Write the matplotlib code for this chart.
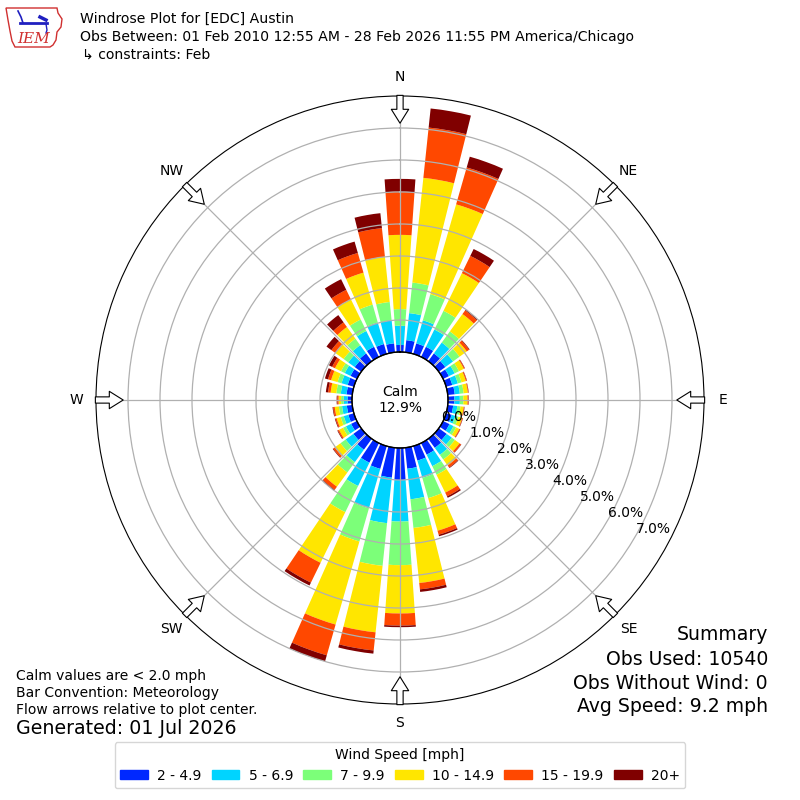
import numpy as np
import matplotlib
matplotlib.use('Agg')
import matplotlib.pyplot as plt
from matplotlib.patches import Rectangle, Polygon

# wind direction bins (deg) and frequency (%) per speed bin
directions = np.arange(0, 360, 10)
spd_2_5 = [0.22, 0.38, 0.34, 0.35, 0.30, 0.25, 0.20, 0.20, 0.22, 0.20,
           0.17, 0.18, 0.22, 0.30, 0.35, 0.40, 0.47, 0.66, 1.00, 0.94,
           0.74, 0.68, 0.42, 0.30, 0.20, 0.18, 0.17, 0.14, 0.18, 0.20,
           0.22, 0.25, 0.30, 0.35, 0.32, 0.28]
spd_5_7 = [0.60, 0.85, 0.75, 0.60, 0.42, 0.30, 0.20, 0.18, 0.16, 0.17,
           0.13, 0.12, 0.14, 0.20, 0.27, 0.40, 0.56, 0.96, 1.30, 1.43,
           1.28, 0.81, 0.48, 0.30, 0.18, 0.15, 0.15, 0.12, 0.18, 0.20,
           0.20, 0.25, 0.32, 0.55, 0.70, 0.72]
spd_7_10 = [0.52, 0.96, 0.85, 0.65, 0.43, 0.25, 0.15, 0.12, 0.12, 0.11,
            0.10, 0.10, 0.09, 0.12, 0.18, 0.30, 0.66, 0.90, 1.36, 1.34,
            1.08, 0.91, 0.40, 0.20, 0.10, 0.10, 0.10, 0.08, 0.14, 0.13,
            0.13, 0.18, 0.25, 0.40, 0.58, 0.58]
spd_10_15 = [2.32, 3.29, 2.92, 1.31, 0.67, 0.28, 0.17, 0.14, 0.13, 0.13,
             0.10, 0.12, 0.11, 0.18, 0.23, 0.62, 1.06, 1.73, 1.51, 2.09,
             2.70, 1.76, 0.55, 0.22, 0.14, 0.13, 0.13, 0.08, 0.18, 0.21,
             0.21, 0.32, 0.45, 0.70, 1.04, 1.42]
spd_15_20 = [1.35, 1.58, 1.20, 0.60, 0.14, 0.09, 0.03, 0.03, 0.02, 0.03,
             0.02, 0.02, 0.03, 0.06, 0.08, 0.13, 0.13, 0.20, 0.38, 0.57,
             1.00, 0.69, 0.12, 0.06, 0.04, 0.04, 0.05, 0.04, 0.08, 0.10,
             0.10, 0.15, 0.18, 0.33, 0.64, 0.90]
spd_20 = [0.40, 0.60, 0.35, 0.24, 0.03, 0.02, 0.01, 0.01, 0.01, 0.01,
          0.01, 0.01, 0.01, 0.01, 0.02, 0.05, 0.05, 0.08, 0.05, 0.10,
          0.20, 0.10, 0.03, 0.02, 0.02, 0.02, 0.02, 0.02, 0.07, 0.10,
          0.11, 0.19, 0.28, 0.37, 0.37, 0.47]

speed_labels = ['2 - 4.9', '5 - 6.9', '7 - 9.9', '10 - 14.9', '15 - 19.9', '20+']
speed_colors = ['#0028ff', '#00d4ff', '#7cff79', '#ffe600', '#ff4800', '#800000']
calm_pct = 12.9
ring_values = [0, 1, 2, 3, 4, 5, 6, 7]
compass = ['N', 'NE', 'E', 'SE', 'S', 'SW', 'W', 'NW']

fig = plt.figure(figsize=(8, 8), dpi=100)
ax = fig.add_axes([0.12, 0.12, 0.76, 0.76], projection='polar')
ax.set_theta_zero_location('N')
ax.set_theta_direction(-1)
ax.set_rorigin(-1.5)
ax.set_ylim(0, 8)

theta = np.deg2rad(directions)
width = np.deg2rad(8)
bottom = np.zeros(len(directions))
for vals, col in zip([spd_2_5, spd_5_7, spd_7_10, spd_10_15, spd_15_20, spd_20], speed_colors):
    vals = np.array(vals)
    ax.bar(theta, vals, width=width, bottom=bottom, color=col, linewidth=0)
    bottom = bottom + vals

# grid
ax.set_thetagrids(range(0, 360, 45), labels=[''] * 8)
ax.set_yticks(ring_values[1:])
ax.set_yticklabels([])
ax.grid(True, color='#b0b0b0', lw=0.9)
ax.spines['polar'].set_color('black')
circ = np.linspace(0, 2 * np.pi, 361)
ax.plot(circ, np.zeros_like(circ), color='black', lw=1.0, clip_on=False)

# ring labels
for r in ring_values:
    ax.text(np.deg2rad(120), r, f'{r:.1f}%', ha='left', va='bottom', fontsize=10)

# compass arrows and labels
for i, name in enumerate(compass):
    th = np.deg2rad(i * 45)
    ax.annotate('', xy=(th, 7.15), xytext=(th, 8.02),
                arrowprops=dict(arrowstyle='simple,head_length=1.0,head_width=1.25,tail_width=0.45',
                                fc='white', ec='black', lw=0.8, shrinkA=0, shrinkB=0,
                                mutation_scale=10),
                annotation_clip=False)
    ax.text(th, 8.6, name, ha='center', va='center', fontsize=10)

ax.text(0, -1.5, f'Calm\n{calm_pct:.1f}%', ha='center', va='center', fontsize=10)

# titles
fig.text(0.1, 0.977, 'Windrose Plot for [EDC] Austin', fontsize=10.1, va='center')
fig.text(0.1, 0.954, 'Obs Between: 01 Feb 2010 12:55 AM - 28 Feb 2026 11:55 PM America/Chicago',
         fontsize=10.1, va='center')
fig.text(0.103, 0.932, '\u21b3 constraints: Feb', fontsize=10.1, va='center')

# notes bottom left
fig.text(0.02, 0.155, 'Calm values are < 2.0 mph', fontsize=10, va='center')
fig.text(0.02, 0.134, 'Bar Convention: Meteorology', fontsize=10, va='center')
fig.text(0.02, 0.113, 'Flow arrows relative to plot center.', fontsize=10, va='center')
fig.text(0.02, 0.089, 'Generated: 01 Jul 2026', fontsize=13.7, va='center')

# summary bottom right
fig.text(0.96, 0.207, 'Summary', fontsize=13.6, ha='right', va='center')
fig.text(0.96, 0.176, 'Obs Used: 10540', fontsize=13.6, ha='right', va='center')
fig.text(0.96, 0.146, 'Obs Without Wind: 0', fontsize=13.6, ha='right', va='center')
fig.text(0.96, 0.117, 'Avg Speed: 9.2 mph', fontsize=13.6, ha='right', va='center')

# legend
handles = [Rectangle((0, 0), 1, 1, color=c) for c in speed_colors]
fig.legend(handles, speed_labels, loc='lower center', bbox_to_anchor=(0.5, 0.0146),
           borderaxespad=0, ncol=6, title='Wind Speed [mph]', fontsize=10,
           title_fontsize=10, columnspacing=0.75, handletextpad=0.65, handleheight=0.6)

# IEM logo (rough)
lax = fig.add_axes([0.0, 0.935, 0.085, 0.065])
lax.set_xlim(0, 68)
lax.set_ylim(52, 0)
lax.axis('off')
outline = [(6, 8), (57, 8), (58, 13), (62, 19), (61, 27), (57, 32), (56, 40),
           (53, 45), (50, 47), (15, 47), (12, 41), (10, 31), (8, 20)]
lax.add_patch(Polygon(outline, closed=True, fill=False, ec='#d03030', lw=1))
lax.plot([20, 47], [23, 23], color='#2020c0', lw=2)
lax.plot([18, 21, 23], [11, 17, 23], color='#2020c0', lw=1.2)
lax.plot([40, 46], [17, 20], color='#2020c0', lw=2.5)
lax.plot([46, 47, 46], [24, 30, 33], color='#2020c0', lw=1)
lax.text(34, 39, 'IEM', color='#d03030', fontsize=11, style='italic',
         family='DejaVu Serif', ha='center', va='center')

fig.savefig('out.png', dpi=100)
